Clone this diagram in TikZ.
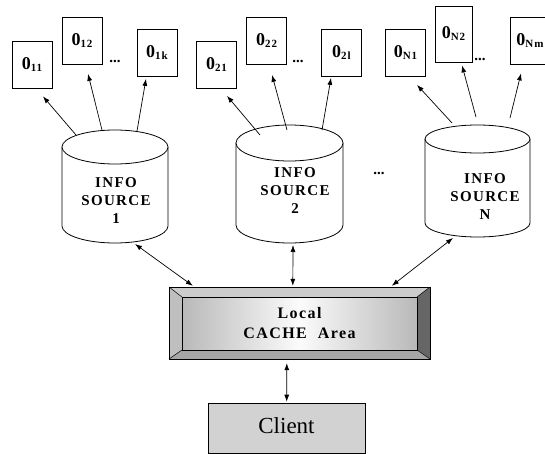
\documentclass[tikz,border=0pt]{standalone}
\usepackage{fontspec}
\setmainfont{Liberation Serif}
\newfontfamily\spacedfont[LetterSpace=9]{Liberation Serif}
\usetikzlibrary{arrows.meta,calc}
\newcommand\olab[1]{0\raisebox{-2pt}{\fontsize{11}{11}\selectfont #1}}
\newcommand\drawcyl[5]{%
  \draw[cylline] (#1-#4,#2) -- (#1-#4,#3) arc[start angle=180,end angle=360,x radius=#4pt,y radius=#5pt] -- (#1+#4,#2);
  \draw[cylline] (#1,#2) ellipse[x radius=#4pt,y radius=#5pt];}
\begin{document}
\begin{tikzpicture}[x=1pt,y=-1pt,
  obox/.style={draw, line width=0.8pt, fill=white, minimum width=40pt, minimum height=47pt, inner sep=0pt,
    font=\spacedfont\bfseries\fontsize{18}{18}\selectfont},
  cylline/.style={draw, line width=0.8pt, fill=white},
  cyltext/.style={align=center, inner sep=0pt, font=\spacedfont\bfseries\fontsize{15}{18}\selectfont},
  dots/.style={inner sep=0pt, font=\bfseries\fontsize{15}{15}\selectfont},
  arr/.style={line width=0.7pt, -{Latex[length=7pt,width=5pt]}},
  darr/.style={line width=0.7pt, {Latex[length=7pt,width=5pt]}-{Latex[length=7pt,width=5pt]}}]
\useasboundingbox (0,0) rectangle (545,454);
\begin{scope}
\clip (0,0) rectangle (545,454);
% object boxes
\node[obox] (o11) at (32,64.5) {\raisebox{-4pt}{\olab{11}}};
\node[obox] (o12) at (82,41) {\raisebox{-3pt}{\olab{12}}};
\node[obox] (o1k) at (157,53) {\raisebox{-4pt}{\olab{1k}}};
\node[obox] (o21) at (216.5,65) {\raisebox{-4pt}{\olab{21}}};
\node[obox] (o22) at (266.5,41) {\raisebox{-3pt}{\olab{22}}};
\node[obox] (o2l) at (341.5,53) {\raisebox{-4pt}{\olab{2l}}};
\node[obox] (oN1) at (405.5,53) {\raisebox{-4pt}{\olab{N1}}};
\node[obox, minimum width=37pt, minimum height=56pt] (oN2) at (453.5,34) {\raisebox{-3pt}{\olab{N2}}};
\node[obox] (oNm) at (530,40.5) {\raisebox{-4pt}{\olab{Nm}}};
\end{scope}
\node[dots] (d1) at (115,61) {...};
\node[dots] (d2) at (298,61) {...};
\node[dots] (d3) at (480,59) {...};
% cylinders
\drawcyl{115}{147}{226}{53}{17}
\drawcyl{289.5}{143}{225}{53.5}{18}
\drawcyl{477.5}{139}{223}{52.5}{14}
\node[cyltext] (c1) at (116,201) {INFO\\SOURCE\\1};
\node[cyltext] (c2) at (295,191) {INFO\\SOURCE\\2};
\node[cyltext] (cN) at (485,197) {INFO\\SOURCE\\N};
\node[dots] (d4) at (379,173) {...};
% arrow anchors on cylinders
\coordinate (c1a) at (76,135);
\coordinate (c1b) at (102,130);
\coordinate (c1c) at (137,131);
\coordinate (c2a) at (260,135);
\coordinate (c2b) at (287,130);
\coordinate (c2c) at (322,130);
\coordinate (cNa) at (452,123);
\coordinate (cNb) at (476,117);
\coordinate (cNc) at (510,118);
\coordinate (c1d) at (135,244);
\coordinate (c2d) at (293,245);
\coordinate (cNd) at (453,238);
\draw[arr] (c1a) -- ($(o11.south)+(11,8)$);
\draw[arr] (c1b) -- ($(o12.south)+(6,9)$);
\draw[arr] (c1c) -- ($(o1k.south)+(-11,2)$);
\draw[arr] (c2a) -- ($(o21.south)+(10.5,7)$);
\draw[arr] (c2b) -- ($(o22.south)+(5.5,10)$);
\draw[arr] (c2c) -- ($(o2l.south)+(-10.5,1)$);
\draw[arr] (cNa) -- ($(oN1.south)+(11.5,8)$);
\draw[arr] (cNb) -- ($(oN2.south)+(8.5,3)$);
\draw[arr] (cNc) -- ($(oNm.south)+(-9,9)$);
% cache box
\fill[gray!40] (169,287) -- (430,287) -- (417,297) -- (182,297) -- cycle;
\fill[gray!50] (169,287) -- (182,297) -- (182,350) -- (169,359) -- cycle;
\fill[gray!80!black] (430,287) -- (430,359) -- (417,350) -- (417,297) -- cycle;
\fill[gray!70] (169,359) -- (182,350) -- (417,350) -- (430,359) -- cycle;
\shade[left color=gray!55, right color=gray!55, middle color=gray!3] (182,297) rectangle (417,350);
\draw[line width=0.6pt] (169,287) rectangle (430,359);
\draw[line width=0.5pt] (182,297) rectangle (417,350);
\draw[line width=0.5pt] (169,287) -- (182,297) (430,287) -- (417,297) (169,359) -- (182,350) (430,359) -- (417,350);
\node[inner sep=0pt, minimum width=261pt, minimum height=72pt, align=center,
  font=\spacedfont\bfseries\fontsize{16}{20}\selectfont] (cache) at (299.5,323) {Local\\CACHE\ \ Area};
% client
\node[draw, line width=0.6pt, fill=gray!35, minimum width=157pt, minimum height=50pt, inner sep=0pt,
  font=\fontsize{23}{23}\selectfont] (client) at (286.5,428) {\raisebox{5pt}{Client}};
% cache connectors
\draw[darr] (c1d) -- ($(cache.north west)+(24,-1)$);
\draw[darr] (c2d) -- ($(cache.north west)+(124,-1)$);
\draw[darr] (cNd) -- ($(cache.north west)+(223,-1)$);
\draw[darr] ($(cache.south west)+(118,4)$) -- ($(client.north west)+(79,-1)$);
\end{tikzpicture}
\end{document}
